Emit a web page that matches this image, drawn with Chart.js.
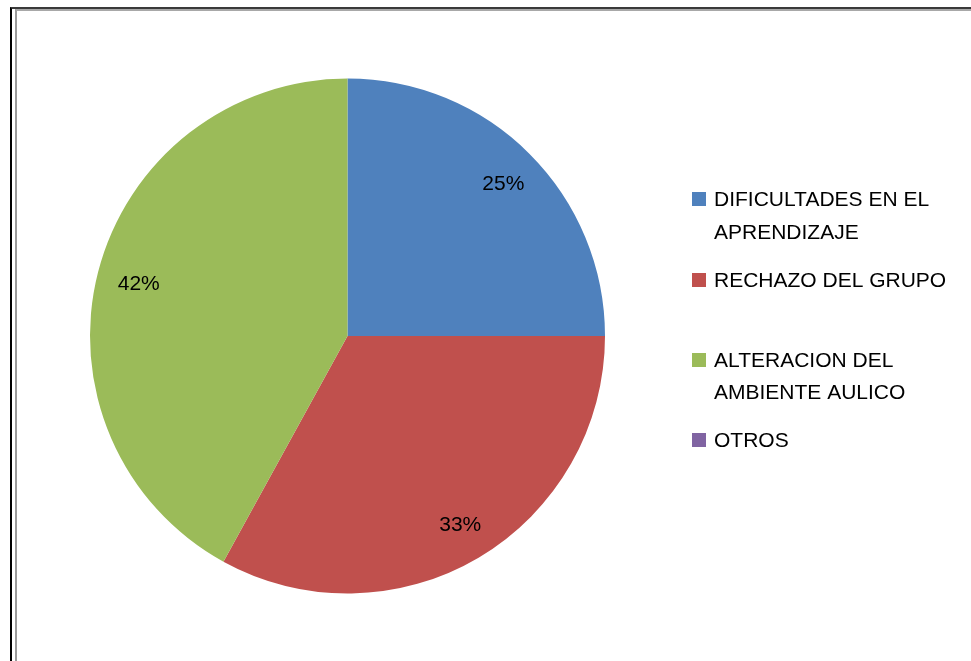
<!DOCTYPE html>
<html>
<head>
<meta charset="utf-8">
<script src="https://cdn.jsdelivr.net/npm/chart.js@4/dist/chart.umd.min.js"></script>
<style>
  html, body { margin: 0; padding: 0; background: #fff; }
  #wrap { position: relative; width: 971px; height: 661px; overflow: hidden; }
  #frameOuter { position: absolute; left: 10px; top: 7px; right: -10px; bottom: -10px;
    border-left: 2px solid #000; border-top: 2px solid #3a3a3a; }
  #frameInner { position: absolute; left: 15px; top: 9px; right: -10px; bottom: -10px;
    border-left: 2px solid #9a9a9a; border-top: 2px solid #a8a8a8; }
  canvas { position: absolute; left: 0; top: 0; }
</style>
</head>
<body>
<div id="wrap">
  <div id="frameOuter"></div>
  <div id="frameInner"></div>
  <canvas id="pieChart" width="971" height="661"></canvas>
</div>
<script>
// 数据
const categories = [
  ['DIFICULTADES EN EL', 'APRENDIZAJE'],
  ['RECHAZO DEL GRUPO'],
  ['ALTERACION DEL', 'AMBIENTE AULICO'],
  ['OTROS']
];
const values = [25, 33, 42, 0];
const colors = ['#4F81BD', '#C0504D', '#9BBB59', '#8064A2'];

const FONT = '21px "Liberation Sans", Arial, sans-serif';

// 百分比标签
const pctLabels = {
  id: 'pctLabels',
  afterDatasetsDraw(chart) {
    const ctx = chart.ctx;
    const meta = chart.getDatasetMeta(0);
    const total = values.reduce(function(a, b) { return a + b; }, 0);
    ctx.save();
    ctx.font = FONT;
    ctx.fillStyle = '#000';
    ctx.textAlign = 'center';
    ctx.textBaseline = 'middle';
    meta.data.forEach(function(arc, i) {
      if (!values[i]) return;
      const p = arc.getProps(['x', 'y', 'startAngle', 'endAngle', 'outerRadius']);
      const mid = (p.startAngle + p.endAngle) / 2;
      const r = p.outerRadius * 0.845;
      ctx.fillText(Math.round(values[i] / total * 100) + '%', p.x + Math.cos(mid) * r + 2, p.y + Math.sin(mid) * r + 2);
    });
    ctx.restore();
  }
};

// 图例（右侧）
const sideLegend = {
  id: 'sideLegend',
  afterDraw(chart) {
    const ctx = chart.ctx;
    const rows = [[199, 232], [280], [360, 392], [440]];
    ctx.save();
    ctx.font = FONT;
    ctx.textBaseline = 'middle';
    categories.forEach(function(lines, i) {
      const ys = rows[i];
      ctx.fillStyle = colors[i];
      ctx.fillRect(692, ys[0] - 7, 14, 14);
      ctx.fillStyle = '#000';
      lines.forEach(function(t, j) {
        ctx.fillText(t, 714, ys[j] + 1);
      });
    });
    ctx.restore();
  }
};

new Chart(document.getElementById('pieChart'), {
  type: 'pie',
  data: {
    labels: categories.map(function(c) { return c.join(' '); }),
    datasets: [{
      data: values,
      backgroundColor: colors,
      borderWidth: 0
    }]
  },
  options: {
    responsive: false,
    animation: false,
    layout: { padding: { left: 90, right: 366, top: 78, bottom: 67 } },
    plugins: {
      legend: { display: false },
      tooltip: { enabled: false }
    }
  },
  plugins: [pctLabels, sideLegend]
});
</script>
</body>
</html>
